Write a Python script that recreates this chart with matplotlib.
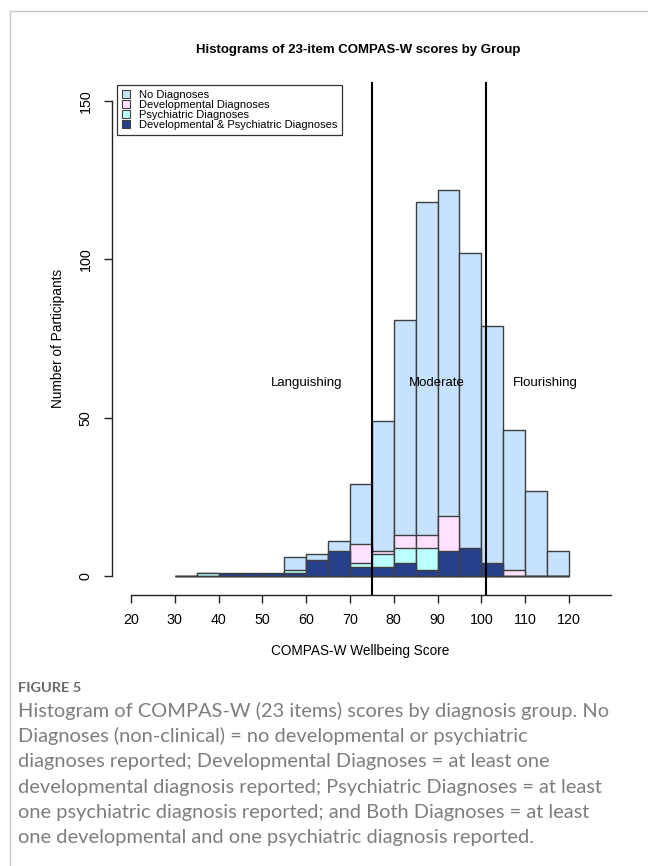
import matplotlib
matplotlib.use("Agg")
import matplotlib.pyplot as plt
from matplotlib.patches import Patch
from matplotlib.lines import Line2D
import numpy as np

# ---------------- data ----------------
bin_left = [30, 35, 40, 45, 50, 55, 60, 65, 70, 75, 80, 85, 90, 95, 100, 105, 110, 115]
bin_width = 5
no_diag = [0, 1, 0, 0, 0, 6, 7, 11, 29, 49, 81, 118, 122, 102, 79, 46, 27, 8]
dev_diag = [0, 0, 0, 0, 0, 0, 0, 0, 10, 8, 13, 13, 19, 0, 0, 2, 0, 0]
psych_diag = [0, 1, 0, 0, 0, 2, 0, 0, 4, 7, 9, 9, 0, 0, 0, 0, 0, 0]
both_diag = [0, 0, 1, 1, 1, 1, 5, 8, 3, 3, 4, 2, 8, 9, 4, 0, 0, 0]
series_labels = ["No Diagnoses", "Developmental Diagnoses", "Psychiatric Diagnoses",
                 "Developmental & Psychiatric Diagnoses"]
cutoffs = [75, 101]
region_labels = ["Languishing", "Moderate", "Flourishing"]
region_x = [60, 89.9, 114.7]
region_y = 61.0
x_ticks = [20, 30, 40, 50, 60, 70, 80, 90, 100, 110, 120]
y_ticks = [0, 50, 100, 150]
title = "Histograms of 23-item COMPAS-W scores by Group"
xlabel = "COMPAS-W Wellbeing Score"
ylabel = "Number of Participants"
fig_label = "FIGURE 5"
caption_lines = [
    "Histogram of COMPAS-W (23 items) scores by diagnosis group. No",
    "Diagnoses (non-clinical) = no developmental or psychiatric",
    "diagnoses reported; Developmental Diagnoses = at least one",
    "developmental diagnosis reported; Psychiatric Diagnoses = at least",
    "one psychiatric diagnosis reported; and Both Diagnoses = at least",
    "one developmental and one psychiatric diagnosis reported.",
]

colors = ["#C6E2FF", "#FFE1FF", "#BBFFFF", "#27408B"]
edge = "#3f3f3f"

W, H = 648, 866
fig = plt.figure(figsize=(W / 100, H / 100), dpi=100)
fig.patch.set_facecolor("white")
plt.rcParams["font.family"] = ["Liberation Sans", "DejaVu Sans"]

def fx(px):
    return px / W

def fy(py):
    return 1 - py / H

left_px, right_px, top_px, bot_px = 111.7, 632.0, 82.0, 595.0
ax = fig.add_axes([fx(left_px), fy(bot_px), fx(right_px - left_px), (bot_px - top_px) / H])
ax.set_xlim(15.6, 134.4)
ax.set_ylim(-6, 156)

for vals, c in zip([no_diag, dev_diag, psych_diag, both_diag], colors):
    ax.bar(bin_left, vals, width=bin_width, align="edge", color=c,
           edgecolor=edge, linewidth=1.0, zorder=2)

for cx in cutoffs:
    ax.axvline(cx, color="black", lw=1.5, zorder=3)

for lab, x in zip(region_labels, region_x):
    ax.text(x, region_y, lab, ha="center", va="center", fontsize=9.5, zorder=4)

for s in ["top", "right"]:
    ax.spines[s].set_visible(False)
ax.spines["left"].set_bounds(0, 150)
ax.spines["bottom"].set_bounds(20, 129.5)
for s in ["left", "bottom"]:
    ax.spines[s].set_linewidth(1.0)
    ax.spines[s].set_color("#222222")
ax.set_xticks(x_ticks)
ax.set_yticks(y_ticks)
ax.tick_params(axis="both", direction="out", length=5.8, width=1.0, color="#222222",
               labelsize=10.3)
ax.tick_params(axis="x", pad=7.5)
ax.tick_params(axis="y", pad=8, labelrotation=90)
for t in ax.get_yticklabels():
    t.set_va("center")

# legend
handles = [Patch(facecolor=c, edgecolor=edge, linewidth=0.8) for c in colors]
leg = fig.legend(handles, series_labels, loc="upper left",
                 bbox_to_anchor=(fx(117), fy(85)), fontsize=8.0, frameon=True,
                 fancybox=False, shadow=False, borderpad=0.45, labelspacing=0.0,
                 handlelength=0.7, handleheight=0.7, handletextpad=0.8,
                 borderaxespad=0.0)
leg.get_frame().set_edgecolor("black")
leg.get_frame().set_linewidth(0.9)

# titles and labels
t_title = fig.text(fx(358), fy(50), title, ha="center", va="center",
                   fontsize=9.5, fontweight="bold")
fig.text(fx(360), fy(651), xlabel, ha="center", va="center", fontsize=9.8)
fig.text(fx(58), fy(338), ylabel, ha="center", va="center", fontsize=9.8, rotation=90)

# border
fig.add_artist(Line2D([fx(9.5), 1.0], [fy(11), fy(11)], color="#c8c8c8", lw=1.0))
fig.add_artist(Line2D([fx(9.5), fx(9.5)], [fy(11), 0.0], color="#c8c8c8", lw=1.0))

# caption
t_fig = fig.text(fx(18), fy(688), fig_label, ha="left", va="center",
                 fontsize=8.5, fontweight="bold", color="#6a6a6a",
                 family=["Lato", "DejaVu Sans"])
cap_texts = []
for i, line in enumerate(caption_lines):
    cap_texts.append(fig.text(fx(18), fy(711 + 25.4 * i), line, ha="left", va="center",
                              fontsize=13, color="#7d7d7d", family=["Lato", "DejaVu Sans"]))

# fit text widths to reference
fig.canvas.draw()
r = fig.canvas.get_renderer()

def fit(t, target):
    w = t.get_window_extent(r).width
    t.set_fontsize(t.get_fontsize() * target / w)

fit(t_title, 325)
fit(t_fig, 64)
w0 = cap_texts[0].get_window_extent(r).width
scale = 589 / w0
for t in cap_texts:
    t.set_fontsize(t.get_fontsize() * scale)

fig.savefig("out.png", dpi=100, facecolor="white")
